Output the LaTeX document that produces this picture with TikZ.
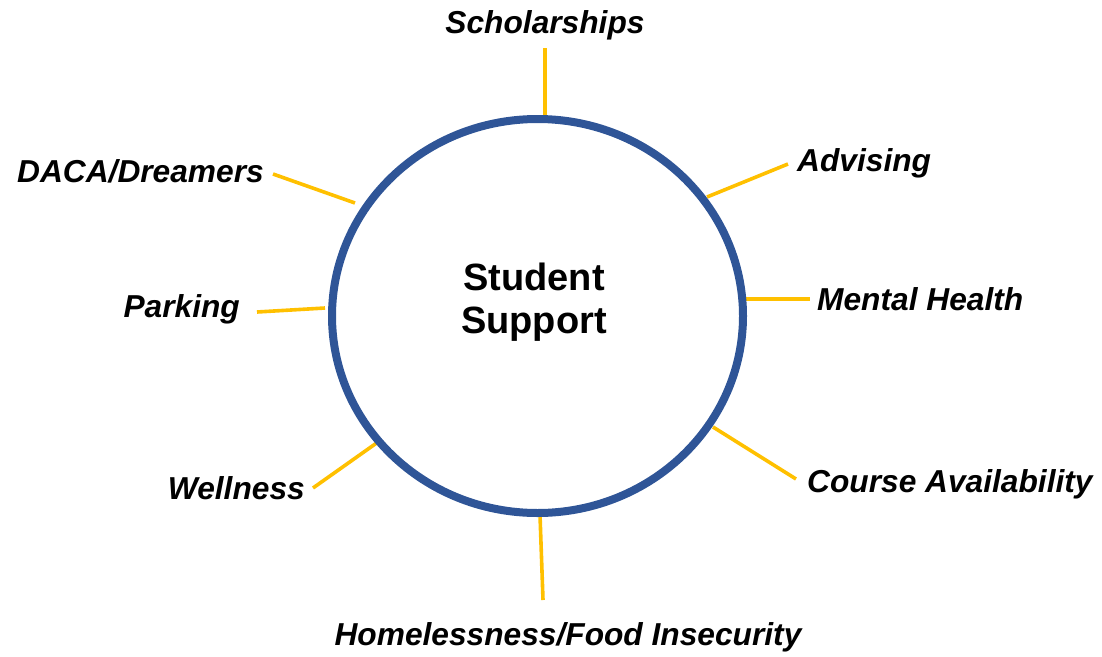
\documentclass[tikz,border=0pt]{standalone}
\usepackage{fontspec}
\setmainfont{Liberation Sans}
\usetikzlibrary{shapes.geometric}
\definecolor{ringblue}{HTML}{2F5597}
\definecolor{spokeyellow}{HTML}{FFC000}
\tikzset{
  ring/.style={draw=ringblue, line width=8pt, ellipse, minimum width=411pt, minimum height=394pt, inner sep=0pt},
  spoke/.style={draw=spokeyellow, line width=3.6pt},
  lbl/.style={inner sep=0pt, font=\fontsize{31.7}{36}\selectfont\bfseries\itshape},
  hub/.style={inner sep=0pt, align=center, font=\fontsize{38}{43}\selectfont\bfseries}
}
\begin{document}
\begin{tikzpicture}[x=1pt,y=-1pt]
\useasboundingbox (0,0) rectangle (1102,656);

% spoke end points
\coordinate (s1a) at (545,115); \coordinate (s1b) at (545,48);
\coordinate (s2a) at (707,197); \coordinate (s2b) at (788,164);
\coordinate (s3a) at (745,299); \coordinate (s3b) at (810,299);
\coordinate (s4a) at (713,427); \coordinate (s4b) at (796,479);
\coordinate (s5a) at (540,515); \coordinate (s5b) at (543,600);
\coordinate (s6a) at (378,442); \coordinate (s6b) at (313,488);
\coordinate (s7a) at (325,308); \coordinate (s7b) at (257,312);
\coordinate (s8a) at (355,203); \coordinate (s8b) at (273,174);

\draw[spoke] (s1a) -- (s1b);
\draw[spoke] (s2a) -- (s2b);
\draw[spoke] (s3a) -- (s3b);
\draw[spoke] (s4a) -- (s4b);
\draw[spoke] (s5a) -- (s5b);
\draw[spoke] (s6a) -- (s6b);
\draw[spoke] (s7a) -- (s7b);
\draw[spoke] (s8a) -- (s8b);

\node[ring] (circ) at (537.5,316) {};
\node[hub] (hubtxt) at (534,302) {Student\\Support};

% labels
\node[lbl, anchor=base] (schol) at (545,33) {Scholarships};
\node[lbl, anchor=base west] (advis) at (797,171) {Advising};
\node[lbl, anchor=base west] (mental) at (817,310) {Mental Health};
\node[lbl, anchor=base west] (course) at (807,492) {Course Availability};
\node[lbl, anchor=base] (homeless) at (568,645) {Homelessness/Food Insecurity};
\node[lbl, anchor=base east] (well) at (305,499) {Wellness};
\node[lbl, anchor=base east] (park) at (240,317) {Parking};
\node[lbl, anchor=base east] (daca) at (264,182) {DACA/Dreamers};
\end{tikzpicture}
\end{document}
